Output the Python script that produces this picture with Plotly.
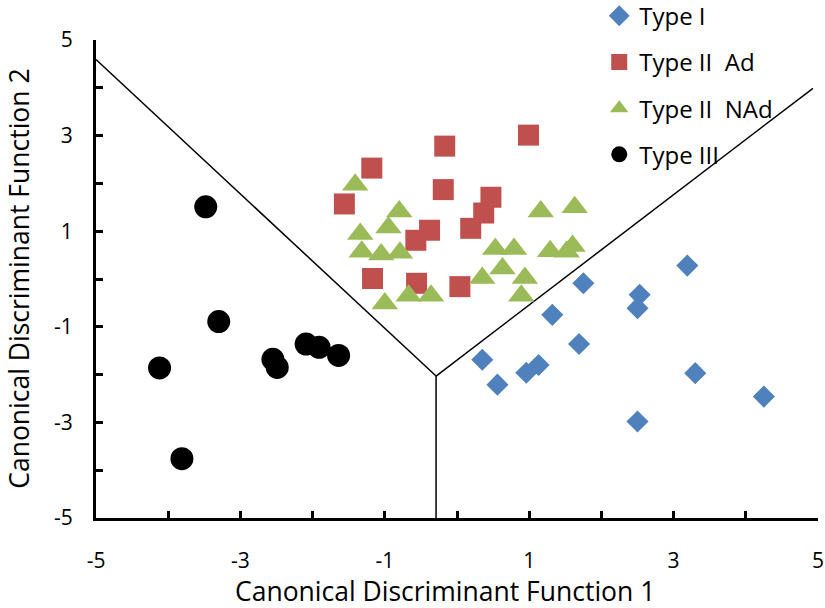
import plotly.graph_objects as go

# Type I (blue diamonds)
type1_x = [1.32, 1.69, 0.35, 0.56, 0.96, 1.13, 2.53, 2.50, 3.30, 4.25, 2.50, 1.75, 3.19]
type1_y = [-0.75, -1.36, -1.69, -2.21, -1.96, -1.80, -0.33, -0.61, -1.97, -2.46, -2.98, -0.09, 0.28]

# Type II Ad (red squares)
type2ad_x = [-1.18, -1.56, -0.17, -0.19, -0.38, -0.57, 0.47, 0.37, 0.19, -1.17, -0.56, 0.04, 0.99]
type2ad_y = [2.32, 1.57, 2.78, 1.87, 1.02, 0.81, 1.71, 1.38, 1.06, 0.01, -0.09, -0.16, 3.01]

# Type II NAd (green triangles)
type2nad_x = [-1.41, -0.80, -0.95, -1.34, -1.32, -1.05, -0.79, -1.00, -0.67, -0.36,
              1.16, 1.63, 0.53, 0.79, 1.29, 1.52, 1.60, 0.63, 0.35, 0.94, 0.89]
type2nad_y = [1.97, 1.41, 1.08, 0.94, 0.57, 0.51, 0.55, -0.51, -0.35, -0.35,
              1.41, 1.50, 0.63, 0.63, 0.58, 0.57, 0.69, 0.22, 0.02, 0.02, -0.35]

# Type III (black circles)
type3_x = [-3.48, -3.30, -4.12, -3.81, -2.55, -2.49, -2.09, -1.91, -1.64]
type3_y = [1.51, -0.89, -1.86, -3.76, -1.68, -1.85, -1.36, -1.43, -1.60]

# Territorial boundaries
boundary_a_x = [-5.0, -0.29]
boundary_a_y = [4.59, -2.03]
boundary_b_x = [-0.29, -0.29]
boundary_b_y = [-2.03, -5.0]
boundary_c_x = [-0.29, 4.93]
boundary_c_y = [-2.03, 3.99]

tick_vals = [-5, -3, -1, 1, 3, 5]
tick_text = ["-5", "-3", "-1", "1", "3", "5"]
x_title = "Canonical Discriminant Function 1"
y_title = "Canonical Discriminant Function 2"

fig = go.Figure()

for bx, by in [(boundary_a_x, boundary_a_y), (boundary_b_x, boundary_b_y), (boundary_c_x, boundary_c_y)]:
    fig.add_trace(go.Scatter(x=bx, y=by, mode="lines", line=dict(color="black", width=1.5),
                             showlegend=False, hoverinfo="skip"))

fig.add_trace(go.Scatter(x=type1_x, y=type1_y, mode="markers", name="Type I", legendgroup="a",
                         marker=dict(symbol="diamond", size=17, color="#4F81BD", line=dict(width=0))))
fig.add_trace(go.Scatter(x=type2ad_x, y=type2ad_y, mode="markers", name="Type II  Ad", legendgroup="b",
                         marker=dict(symbol="square", size=21, color="#C0504D", line=dict(width=0))))
fig.add_trace(go.Scatter(x=type2nad_x, y=type2nad_y, mode="markers", name="Type II  NAd", legendgroup="c",
                         marker=dict(symbol="triangle-up", size=23, color="#9BBB59", line=dict(width=0))))
fig.add_trace(go.Scatter(x=type3_x, y=type3_y, mode="markers", name="Type III", legendgroup="d",
                         marker=dict(symbol="circle", size=23, color="black", line=dict(width=0))))

axis_common = dict(
    range=[-5, 5], tickvals=tick_vals, ticktext=tick_text, showgrid=False, zeroline=False,
    showline=True, linecolor="black", linewidth=3, automargin=False,
    ticks="inside", ticklen=7, tickwidth=3, tickcolor="black",
    minor=dict(dtick=1, tick0=0, ticks="inside", ticklen=7, tickwidth=3, tickcolor="black", showgrid=False),
    tickfont=dict(size=21, color="black"),
)

fig.update_layout(
    width=825, height=608,
    margin=dict(l=96, r=7, t=40, b=90, autoexpand=False),
    paper_bgcolor="white", plot_bgcolor="white",
    font=dict(family="Open Sans", color="black"),
    xaxis=dict(**axis_common, ticklabelstandoff=22),
    yaxis=dict(**axis_common, ticklabelstandoff=16),
    legend=dict(x=0.697, y=1.097, xanchor="left", yanchor="top",
                font=dict(size=24), tracegroupgap=12, itemsizing="trace", bgcolor="rgba(0,0,0,0)"),
    showlegend=True,
    annotations=[
        dict(text=x_title, xref="paper", yref="paper", x=0.483, y=-0.153, xanchor="center",
             yanchor="middle", showarrow=False, font=dict(size=26.5)),
        dict(text=y_title, xref="paper", yref="paper", x=-0.107, y=0.5, xanchor="center",
             yanchor="middle", textangle=-90, showarrow=False, font=dict(size=26.5)),
    ],
)

fig.write_html("out.html", config={"displayModeBar": False},
               post_script="document.body.style.margin='0';")
